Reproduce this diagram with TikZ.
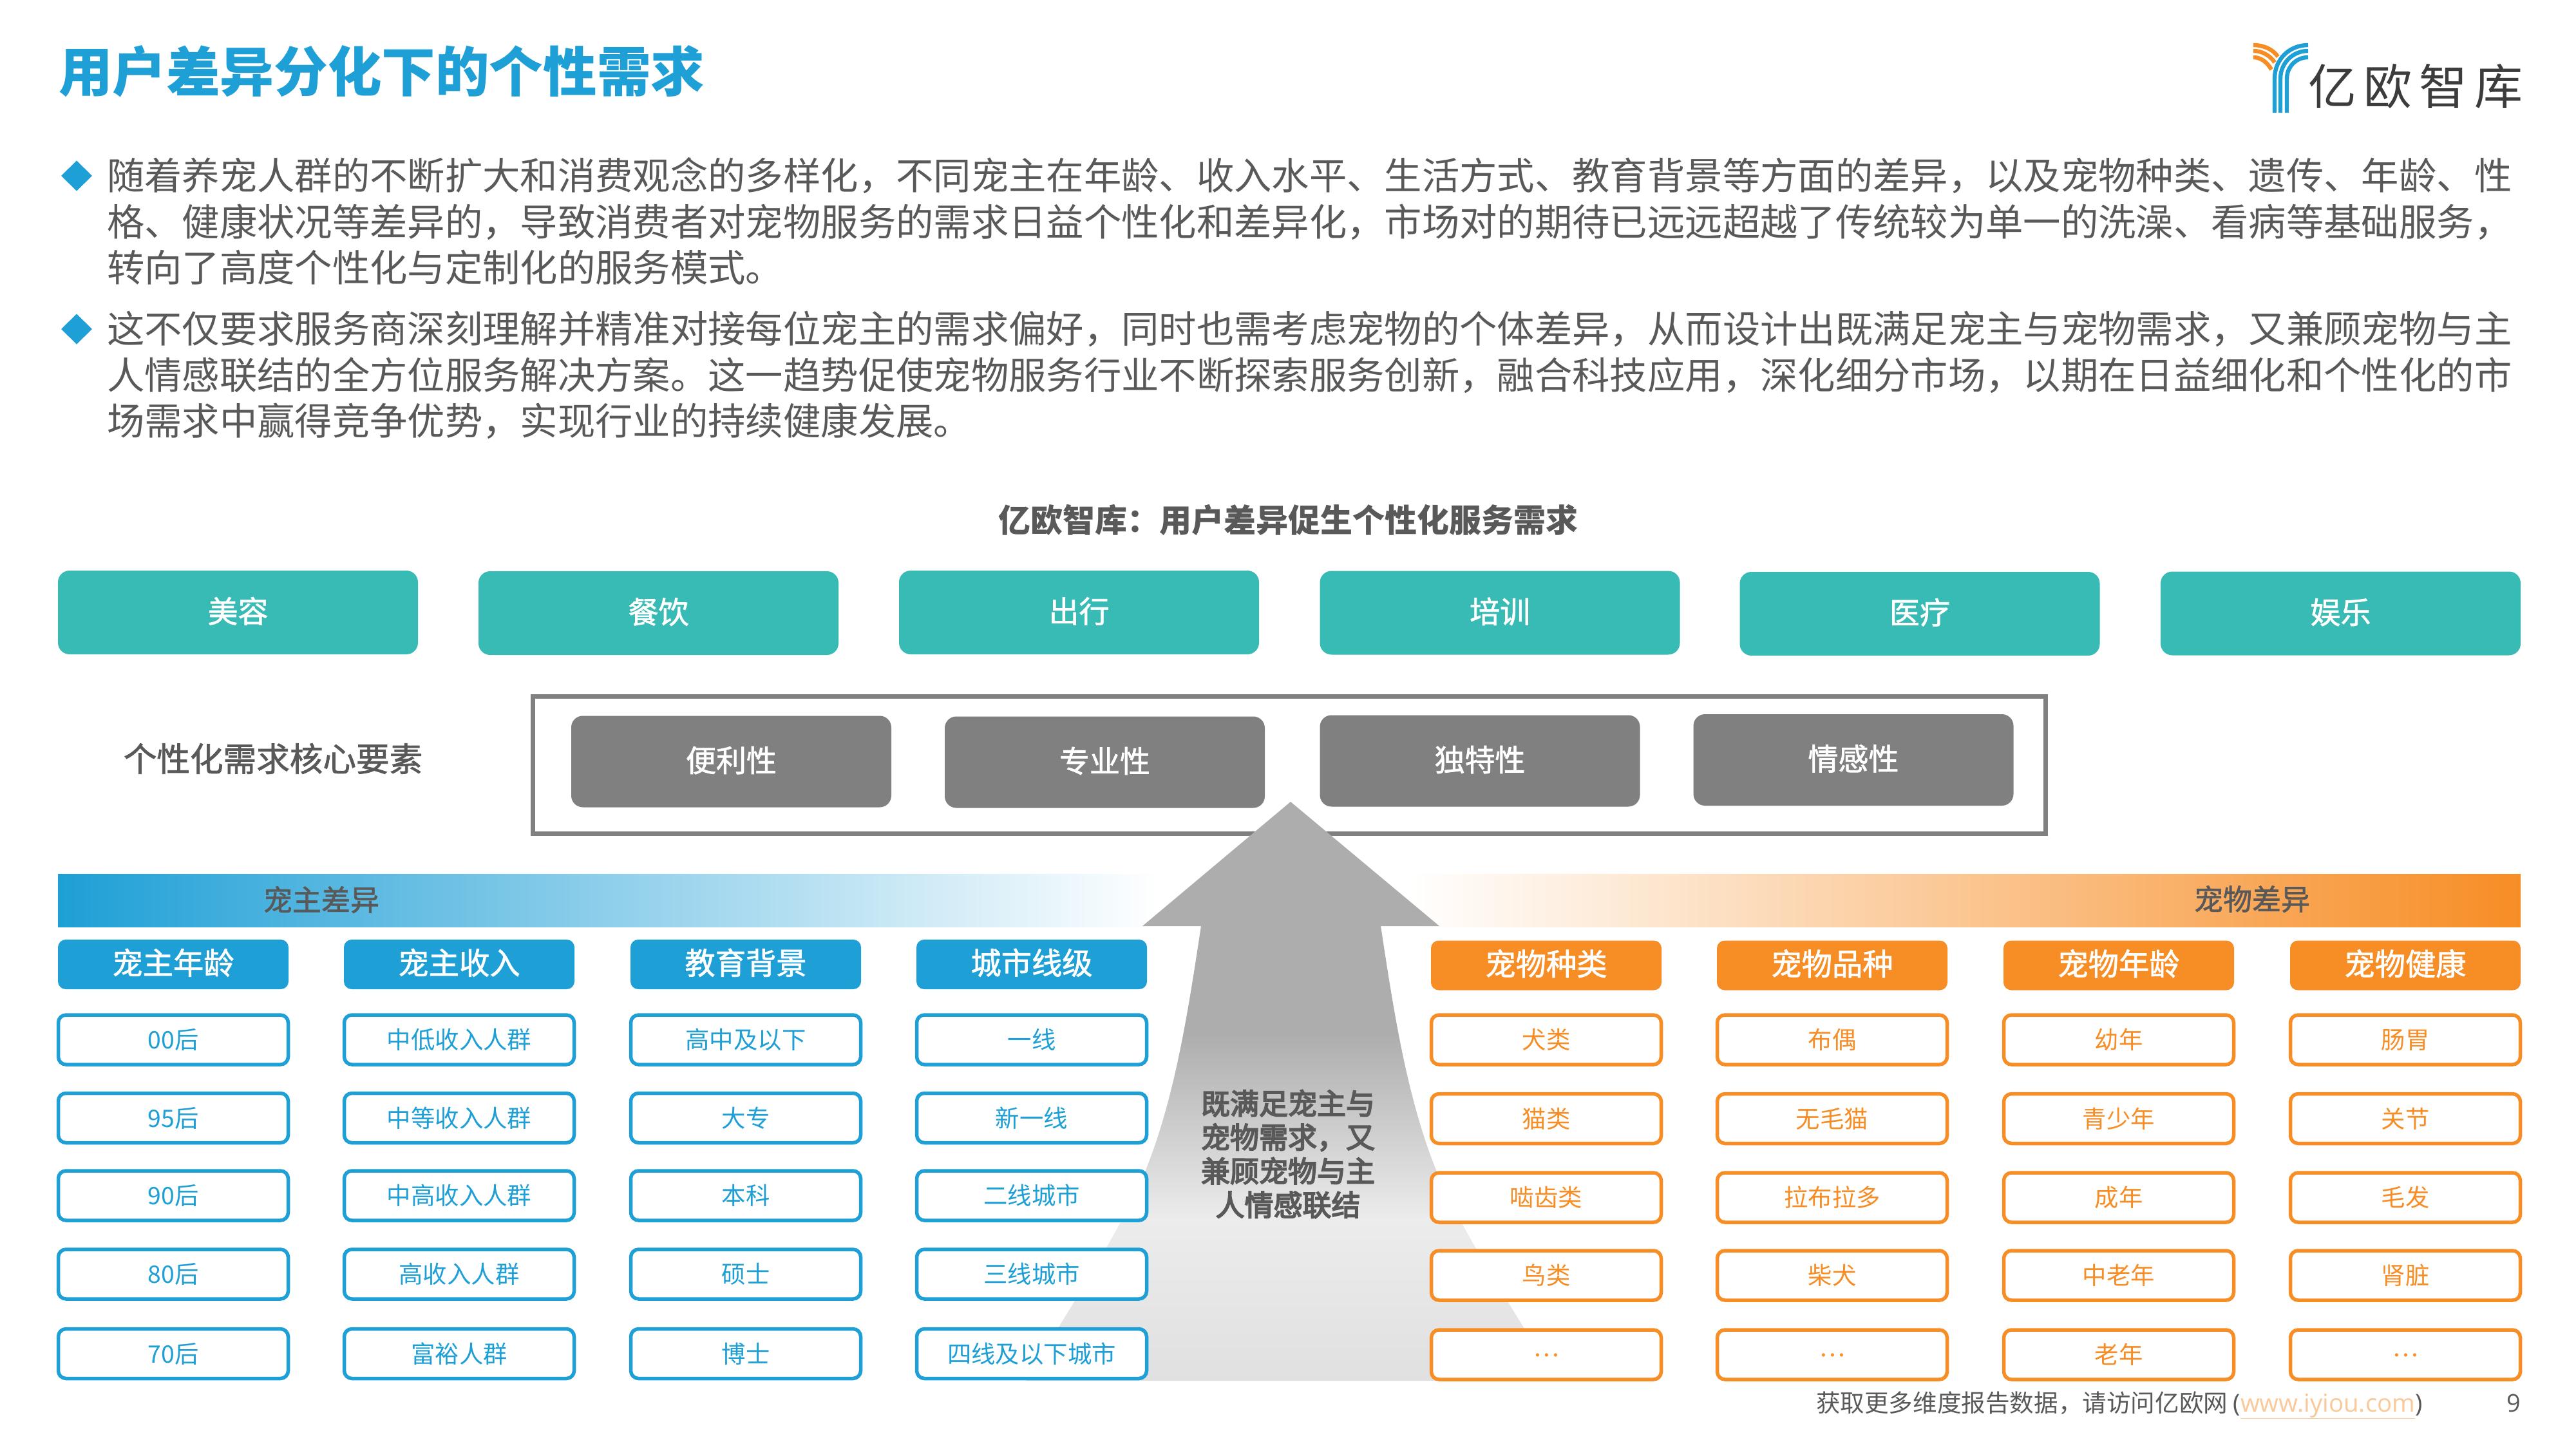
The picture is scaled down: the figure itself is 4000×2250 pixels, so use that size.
\documentclass[tikz,border=0pt]{standalone}
\usepackage{fontspec}
\setmainfont{Noto Sans CJK SC}
\newfontfamily\latfont{Open Sans}
\newfontfamily\medfont[FakeBold=4]{Noto Sans CJK SC}
\newfontfamily\semifont[FakeBold=1.5]{Noto Sans CJK SC}
\usetikzlibrary{shapes.geometric}
\definecolor{iblue}{HTML}{1E9FD6}
\definecolor{iorange}{HTML}{F78D25}
\definecolor{iteal}{HTML}{38BBB5}
\definecolor{igrey}{HTML}{808080}
\definecolor{itext}{HTML}{595959}
\definecolor{ilink}{HTML}{F9C99A}
\definecolor{ilogo}{HTML}{3C3C3C}
\definecolor{agone}{HTML}{ADADAD}
\definecolor{agtwo}{HTML}{ECECEC}
\definecolor{agthree}{HTML}{E0E0E0}
\pgfdeclareverticalshading{arrowgrad}{100bp}{color(0bp)=(agthree); color(25bp)=(agthree); color(39bp)=(agtwo); color(55bp)=(agone); color(100bp)=(agone)}
\newcommand{\fs}[2]{\fontsize{#1}{#2}\selectfont}
\newcommand{\middots}{\raisebox{11pt}{…}}
\tikzset{
  base/.style={inner sep=0pt,outer sep=0pt},
  bodyline/.style={base,anchor=base west,text=itext,font=\fs{58.35}{70}},
  bullet/.style={base,diamond,fill=iblue,minimum width=48pt,minimum height=47pt,aspect=1},
  tealbox/.style={base,fill=iteal,rounded corners=18pt,minimum width=559pt,minimum height=130pt,text=white,font=\semifont\fs{47}{47},text height=37.4pt,text depth=5.6pt},
  greybox/.style={base,fill=igrey,rounded corners=18pt,minimum width=497pt,minimum height=142pt,text=white,font=\semifont\fs{47}{47},text height=37.4pt,text depth=5.6pt},
  headbox/.style={base,rounded corners=12pt,minimum width=358pt,minimum height=77pt,text=white,font=\semifont\fs{47.3}{47},text height=36.4pt,text depth=5.6pt},
  rowbox/.style={base,fill=white,line width=5.5pt,rounded corners=12pt,minimum width=357pt,minimum height=77pt,font=\fs{37.4}{37},text height=32.5pt,text depth=4.5pt},
  bandlabel/.style={base,text=itext,font=\semifont\fs{45}{45}},
  logoblue/.style={iblue,line width=6.4pt},
  logoorange/.style={iorange,line width=6.4pt}
}
\begin{document}
\begin{tikzpicture}[x=1pt,y=-1pt]
\useasboundingbox (0,0) rectangle (4000,2250);
\fill[white] (0,0) rectangle (4000,2250);

% title
\node[base,anchor=base west,text=iblue,font=\bfseries\fs{83.6}{84}] (title) at (91,143) {用户差异分化下的个性需求};

% logo
\draw[logoblue] (3532,175) -- (3532,122) .. controls (3532,92) and (3555,70) .. (3584,70);
\draw[logoblue] (3541,175) -- (3541,122) .. controls (3541,98) and (3560,79) .. (3584,79);
\draw[logoblue] (3551,175) -- (3551,122) .. controls (3551,104) and (3565,89) .. (3584,89);
\draw[logoorange] (3499,70) .. controls (3515,70) and (3530,77) .. (3537,88);
\draw[logoorange] (3499,79) .. controls (3512,79) and (3525,86) .. (3532,97);
\draw[logoorange] (3499,89) .. controls (3510,89) and (3520,96) .. (3527,108);
\node[base,text=ilogo,font=\fs{75}{75}] (logotext) at (3751,134) {亿\hspace{11pt}欧\hspace{11pt}智\hspace{11pt}库};

% paragraphs
\node[bullet] (b1) at (119,273) {};
\node[bodyline] (p1a) at (166,295) {随着养宠人群的不断扩大和消费观念的多样化，不同宠主在年龄、收入水平、生活方式、教育背景等方面的差异，以及宠物种类、遗传、年龄、性};
\node[bodyline] (p1b) at (166,366) {格、健康状况等差异的，导致消费者对宠物服务的需求日益个性化和差异化，市场对的期待已远远超越了传统较为单一的洗澡、看病等基础服务，};
\node[bodyline] (p1c) at (166,437) {转向了高度个性化与定制化的服务模式。};
\node[bullet] (b2) at (119,511) {};
\node[bodyline] (p2a) at (166,532) {这不仅要求服务商深刻理解并精准对接每位宠主的需求偏好，同时也需考虑宠物的个体差异，从而设计出既满足宠主与宠物需求，又兼顾宠物与主};
\node[bodyline] (p2b) at (166,604) {人情感联结的全方位服务解决方案。这一趋势促使宠物服务行业不断探索服务创新，融合科技应用，深化细分市场，以期在日益细化和个性化的市};
\node[bodyline] (p2c) at (166,675) {场需求中赢得竞争优势，实现行业的持续健康发展。};

% chart title
\node[base,text=itext,font=\bfseries\fs{50}{50}] (charttitle) at (2000,808) {亿欧智库：用户差异促生个性化服务需求};

% teal row
\node[tealbox] (t1) at (369.5,951) {美容};
\node[tealbox] (t2) at (1022.5,952) {餐饮};
\node[tealbox] (t3) at (1675.5,951) {出行};
\node[tealbox] (t4) at (2329,951.5) {培训};
\node[tealbox] (t5) at (2981,953) {医疗};
\node[tealbox] (t6) at (3634.5,952.5) {娱乐};

% core elements
\node[base,text=itext,font=\semifont\fs{51.6}{51}] (corelabel) at (424,1178) {个性化需求核心要素};
\draw[igrey,line width=7pt] (827.5,1081.5) rectangle (3176.5,1294.5);
\node[greybox] (g1) at (1135.5,1182.5) {便利性};
\node[greybox] (g2) at (1715.5,1183.5) {专业性};
\node[greybox] (g3) at (2298,1181.5) {独特性};
\node[greybox] (g4) at (2878,1180) {情感性};

% gradient bands
\shade[left color=iblue,right color=white] (90,1357) rectangle (1800,1439);
\shade[left color=white,right color=iorange] (2190,1357) rectangle (3914,1439);
\node[bandlabel] (bandl) at (499,1397) {宠主差异};
\node[bandlabel] (bandr) at (3497,1396) {宠物差异};

% big arrow
\shade[shading=arrowgrad] (2004,1245) -- (2235,1438) -- (2144,1438)
  .. controls (2164,1570) and (2184,1700) .. (2228,1812)
  .. controls (2264,1900) and (2319,1985) .. (2417,2144)
  -- (1593,2144)
  .. controls (1690,1985) and (1745,1900) .. (1781,1812)
  .. controls (1825,1700) and (1845,1570) .. (1865,1438)
  -- (1774,1438) -- cycle;
\node[base,align=center,text=itext,font=\medfont\fs{45}{52.5}] (arrowtext) at (2000,1792) {既满足宠主与\\宠物需求，又\\兼顾宠物与主\\人情感联结};

% owner columns
\foreach \i/\cx/\hd/\ra/\rb/\rc/\rd/\re in {
  1/269/宠主年龄/00后/95后/90后/80后/70后,
  2/713/宠主收入/中低收入人群/中等收入人群/中高收入人群/高收入人群/富裕人群,
  3/1158/教育背景/高中及以下/大专/本科/硕士/博士,
  4/1602/城市线级/一线/新一线/二线城市/三线城市/四线及以下城市}{
  \node[headbox,fill=iblue] (h\i) at (\cx,1497.5) {\hd};
  \node[rowbox,draw=iblue,text=iblue] (r\i a) at (\cx,1614.5) {\ra};
  \node[rowbox,draw=iblue,text=iblue] (r\i b) at (\cx,1736) {\rb};
  \node[rowbox,draw=iblue,text=iblue] (r\i c) at (\cx,1856.5) {\rc};
  \node[rowbox,draw=iblue,text=iblue] (r\i d) at (\cx,1978.5) {\rd};
  \node[rowbox,draw=iblue,text=iblue] (r\i e) at (\cx,2102) {\re};
}
% pet columns
\foreach \i/\cx/\hd/\ra/\rb/\rc/\rd/\re in {
  5/2401/宠物种类/犬类/猫类/啮齿类/鸟类/\middots,
  6/2845/宠物品种/布偶/无毛猫/拉布拉多/柴犬/\middots,
  7/3290/宠物年龄/幼年/青少年/成年/中老年/老年,
  8/3735/宠物健康/肠胃/关节/毛发/肾脏/\middots}{
  \node[headbox,fill=iorange] (h\i) at (\cx,1499) {\hd};
  \node[rowbox,draw=iorange,text=iorange] (r\i a) at (\cx,1614.5) {\ra};
  \node[rowbox,draw=iorange,text=iorange] (r\i b) at (\cx,1737) {\rb};
  \node[rowbox,draw=iorange,text=iorange] (r\i c) at (\cx,1859.5) {\rc};
  \node[rowbox,draw=iorange,text=iorange] (r\i d) at (\cx,1980.5) {\rd};
  \node[rowbox,draw=iorange,text=iorange] (r\i e) at (\cx,2103.5) {\re};
}

% footer
\node[base,anchor=base west,text=itext,font=\fs{37.6}{37}] (footer) at (2820,2192) {获取更多维度报告数据，请访问亿欧网 {\latfont\fontsize{38.4}{38}\selectfont(\textcolor{ilink}{\underline{www.iyiou.com}})}};
\node[base,anchor=base,text=itext,font=\latfont\fs{38}{38}] (pagenum) at (3903,2192) {9};
\end{tikzpicture}
\end{document}
